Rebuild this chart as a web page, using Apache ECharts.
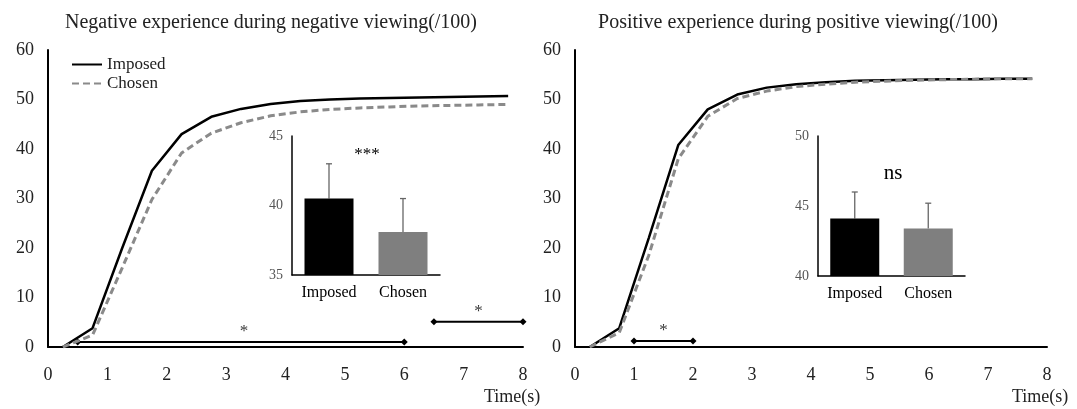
<!DOCTYPE html>
<html><head><meta charset="utf-8">
<script src="https://cdn.jsdelivr.net/npm/echarts@6/dist/echarts.min.js"></script>
<style>html,body{margin:0;padding:0;background:#fff}#c{width:1077px;height:409px}</style>
</head><body><div id="c"></div>
<script>
const timeSec = [0.25,0.75,1.25,1.75,2.25,2.75,3.25,3.75,4.25,4.75,5.25,5.75,6.25,6.75,7.25,7.75];
const negImposed = [0,3.8,20,35.6,43.0,46.5,48.1,49.1,49.7,50.0,50.2,50.3,50.4,50.5,50.6,50.7];
const negChosen  = [0,2.4,16,29.8,39.2,43.2,45.3,46.7,47.5,48.0,48.3,48.5,48.7,48.8,48.9,49.0];
const posImposed = [0,3.8,22,40.8,48.0,51.0,52.4,53.1,53.5,53.8,53.9,54.0,54.1,54.1,54.2,54.2];
const posChosen  = [0,2.9,18.5,38,46.6,50.2,51.7,52.6,53.1,53.5,53.7,53.9,54.0,54.1,54.2,54.2];
const xTicks = [0,1,2,3,4,5,6,7,8];
const yTicksMain = [0,10,20,30,40,50,60];
const groups = ['Imposed','Chosen'];
const negMean = [40.5, 38.1];
const negErrTop = [43.0, 40.5];
const posMean = [44.1, 43.4];
const posErrTop = [46.0, 45.2];
// significance brackets: [start, end, y]
const negBrackets = [[0.5, 6.0, 1.0], [6.5, 8.0, 5.1]];
const negStars = [[3.3, 1.0, '*'], [7.25, 5.1, '*']];
const posBrackets = [[1.0, 2.0, 1.2]];
const posStars = [[1.5, 1.2, '*']];

const FONT = "'Liberation Serif','Times New Roman',serif";
const pair = (xs, ys) => xs.map((x, i) => [x, ys[i]]);

const chart = echarts.init(document.getElementById('c'));

function mainX(idx){
  return {type:'value', gridIndex:idx, min:0, max:8, interval:1,
    axisLine:{show:true, onZero:false, lineStyle:{color:'#000', width:2}},
    axisTick:{show:false}, splitLine:{show:false},
    axisLabel:{fontFamily:FONT, fontSize:18, color:'#222', margin:19}};
}
function mainY(idx){
  return {type:'value', gridIndex:idx, min:0, max:60, interval:10,
    axisLine:{show:true, lineStyle:{color:'#000', width:2}},
    axisTick:{show:false}, splitLine:{show:false},
    axisLabel:{fontFamily:FONT, fontSize:18, color:'#222', margin:14}};
}
function insetX(idx){
  return {type:'category', gridIndex:idx, data:groups,
    axisLine:{show:true, lineStyle:{color:'#000', width:1.5}},
    axisTick:{show:false},
    axisLabel:{fontFamily:FONT, fontSize:16, color:'#000', margin:10}};
}
function insetY(idx, mn, mx){
  return {type:'value', gridIndex:idx, min:mn, max:mx, interval:5,
    axisLine:{show:true, lineStyle:{color:'#000', width:1.5}},
    axisTick:{show:false}, splitLine:{show:false},
    axisLabel:{fontFamily:FONT, fontSize:14, color:'#555', margin:9}};
}
function bracketSeries(br, xi){
  return br.map(b => ({type:'line', xAxisIndex:xi, yAxisIndex:xi, data:[[b[0],b[2]],[b[1],b[2]]],
    symbol:'diamond', symbolSize:7, showSymbol:true, itemStyle:{color:'#000'},
    lineStyle:{color:'#000', width:2}, silent:true, z:3, legendHoverLink:false}));
}
function starSeries(st, xi){
  return {type:'scatter', xAxisIndex:xi, yAxisIndex:xi, symbolSize:0,
    data: st.map(s => ({value:[s[0], s[1]], label:{formatter:s[2]}})),
    label:{show:true, position:'top', distance:2, fontFamily:FONT, fontSize:17, color:'#000'}, silent:true};
}
function barSeries(idx, vals){
  return {type:'bar', xAxisIndex:idx, yAxisIndex:idx, barWidth:49,
    data: vals.map((v,i) => ({value:v, itemStyle:{color: i===0 ? '#000' : '#7f7f7f'}})), z:2};
}
function errSeries(idx, means, tops){
  return {type:'custom', xAxisIndex:idx, yAxisIndex:idx, z:1,
    data: means.map((m,i) => [i, m, tops[i]]),
    renderItem: (params, api) => {
      const p0 = api.coord([api.value(0), api.value(1)]);
      const p1 = api.coord([api.value(0), api.value(2)]);
      return {type:'group', children:[
        {type:'line', shape:{x1:p0[0], y1:p0[1], x2:p1[0], y2:p1[1]}, style:{stroke:'#666', lineWidth:1.3}},
        {type:'line', shape:{x1:p1[0]-3, y1:p1[1], x2:p1[0]+3, y2:p1[1]}, style:{stroke:'#666', lineWidth:1.3}}
      ]};
    }};
}

const option = {
  animation:false,
  backgroundColor:'#fff',
  title:[
    {text:'Negative experience during negative viewing(/100)', left:266, top:8, textAlign:'center',
     textStyle:{fontFamily:FONT, fontSize:20, fontWeight:'normal', color:'#222'}},
    {text:'Positive experience during positive viewing(/100)', left:793, top:8, textAlign:'center',
     textStyle:{fontFamily:FONT, fontSize:20, fontWeight:'normal', color:'#222'}}
  ],
  legend:{data:groups, orient:'vertical', left:66, top:51, itemWidth:30, itemHeight:12, itemGap:2,
    itemStyle:{opacity:0},
    textStyle:{fontFamily:FONT, fontSize:17, color:'#222'}},
  grid:[
    {left:48, top:50, width:475, height:297},
    {left:575, top:50, width:472, height:297},
    {left:292, top:136, width:148, height:139},
    {left:818, top:136, width:147, height:140}
  ],
  xAxis:[mainX(0), mainX(1), insetX(2), insetX(3)],
  yAxis:[mainY(0), mainY(1), insetY(2,35,45), insetY(3,40,50)],
  graphic:[
    {type:'text', left:484, top:388, style:{text:'Time(s)', fontFamily:FONT, fontSize:18, fill:'#222'}},
    {type:'text', left:1012, top:388, style:{text:'Time(s)', fontFamily:FONT, fontSize:18, fill:'#222'}},
    {type:'text', x:367, y:155, style:{text:'***', fontFamily:FONT, fontSize:17, fill:'#000', align:'center', verticalAlign:'middle'}},
    {type:'text', x:893, y:173, style:{text:'ns', fontFamily:FONT, fontSize:21, fill:'#000', align:'center', verticalAlign:'middle'}}
  ],
  series:[
    {name:'Imposed', type:'line', xAxisIndex:0, yAxisIndex:0, data:pair(timeSec, negImposed), symbol:'none',
      lineStyle:{color:'#000', width:2.5}, itemStyle:{color:'#000'}, z:4},
    {name:'Chosen', type:'line', xAxisIndex:0, yAxisIndex:0, data:pair(timeSec, negChosen), symbol:'none',
      lineStyle:{color:'#8a8a8a', width:3, type:[7,4]}, itemStyle:{color:'#8a8a8a'}, z:5},
    {name:'Imposed', type:'line', xAxisIndex:1, yAxisIndex:1, data:pair(timeSec, posImposed), symbol:'none',
      lineStyle:{color:'#000', width:2.5}, itemStyle:{color:'#000'}, z:4},
    {name:'Chosen', type:'line', xAxisIndex:1, yAxisIndex:1, data:pair(timeSec, posChosen), symbol:'none',
      lineStyle:{color:'#8a8a8a', width:3, type:[7,4]}, itemStyle:{color:'#8a8a8a'}, z:5},
    ...bracketSeries(negBrackets, 0),
    ...bracketSeries(posBrackets, 1),
    starSeries(negStars, 0),
    starSeries(posStars, 1),
    barSeries(2, negMean), errSeries(2, negMean, negErrTop),
    barSeries(3, posMean), errSeries(3, posMean, posErrTop)
  ]
};
chart.setOption(option);
</script></body></html>
